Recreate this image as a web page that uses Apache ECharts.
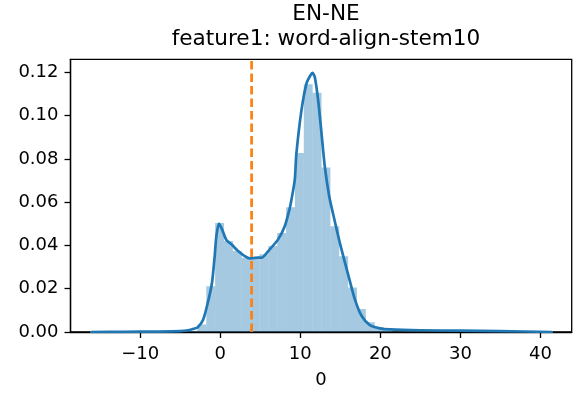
<!DOCTYPE html>
<html>
<head>
<meta charset="utf-8">
<script src="https://cdn.jsdelivr.net/npm/echarts@6/dist/echarts.min.js"></script>
<style>
html,body{margin:0;padding:0;background:#fff;}
#c{width:573px;height:394px;}
</style>
</head>
<body>
<div id="c"></div>
<script>
// ---- data ----
const titleLines = ["EN-NE", "feature1: word-align-stem10"];
const xAxisName = "0";
const xTicks = [-10, 0, 10, 20, 30, 40];
const yTicks = [0, 0.02, 0.04, 0.06, 0.08, 0.10, 0.12];

// histogram bins: left edges, right edges, density heights
const binLeft = [-3.954, -2.847, -1.740, -0.632, 0.475, 1.582, 2.689, 3.796, 4.903, 6.010, 7.117, 8.224, 9.331, 10.438, 11.545, 12.652, 13.759, 14.866, 15.973, 17.080, 18.187, 19.294, 20.401];
const binRight = [-2.847, -1.740, -0.632, 0.475, 1.582, 2.689, 3.796, 4.903, 6.010, 7.117, 8.224, 9.331, 10.438, 11.545, 12.652, 13.759, 14.866, 15.973, 17.080, 18.187, 19.294, 20.401, 21.508];
const binHeight = [0.0005, 0.0035, 0.0211, 0.0504, 0.0420, 0.0374, 0.0343, 0.0339, 0.0359, 0.0397, 0.0458, 0.0576, 0.0827, 0.1145, 0.1105, 0.0760, 0.0489, 0.0350, 0.0206, 0.0106, 0.0045, 0.0023, 0.0008];

// KDE curve points
const kdeX = [-16.1, -12, -8, -5, -4, -3.3, -2.8, -2.15, -1.52, -1.02, -0.69, -0.48, -0.15, 0.23, 0.77, 1.4, 2.23, 3.06, 3.69, 4.2, 4.7, 5.15, 6.19, 7.23, 8.06, 8.69, 8.9, 9.31, 9.52, 10.15, 10.77, 11.27, 11.52, 11.81, 12.23, 12.65, 13.06, 13.6, 14.1, 14.94, 15.98, 16.81, 17.65, 18.69, 19.94, 21.2, 25, 30, 35, 41.4];
const kdeY = [0.0000, 0.0001, 0.0002, 0.0004, 0.0008, 0.0015, 0.0022, 0.0055, 0.0140, 0.0229, 0.0351, 0.0443, 0.0501, 0.0474, 0.0425, 0.0405, 0.0374, 0.0351, 0.0340, 0.0342, 0.0344, 0.0343, 0.0382, 0.0428, 0.0489, 0.0573, 0.0612, 0.0703, 0.0826, 0.1025, 0.1148, 0.1186, 0.1197, 0.1178, 0.1071, 0.0918, 0.0765, 0.0630, 0.0545, 0.0412, 0.0265, 0.0152, 0.0075, 0.0032, 0.0017, 0.0012, 0.0008, 0.0006, 0.0004, 0.0000];

// vertical reference line
const vlineX = 3.92;

const xMin = -18.7, xMax = 43.9, yMin = 0, yMax = 0.126;

// ---- chart ----
const FONT = "DejaVu Sans";
const histData = binLeft.map((l, i) => [l, binRight[i], binHeight[i]]);
const kdeData = kdeX.map((x, i) => [x, kdeY[i]]);
const minus = s => String(s).replace('-', '\u2212');

const chart = echarts.init(document.getElementById('c'), null, {renderer: 'canvas'});
chart.setOption({
  animation: false,
  backgroundColor: '#ffffff',
  title: {
    text: titleLines.join('\n'),
    left: 321, top: -3,
    textAlign: 'center',
    textStyle: {fontFamily: FONT, fontSize: 21.6, fontWeight: 'normal', color: '#000', lineHeight: 25}
  },
  grid: {left: 70.5, right: 1.3, top: 59.3, bottom: 60.7, show: true, borderColor: '#000', borderWidth: 1.3, backgroundColor: 'transparent'},
  xAxis: {
    type: 'value', min: xMin, max: xMax,
    name: xAxisName, nameLocation: 'middle', nameGap: 39,
    nameTextStyle: {fontFamily: FONT, fontSize: 18, color: '#000', lineHeight: 18},
    axisLine: {show: true, onZero: false, lineStyle: {color: '#000', width: 1.3}},
    axisTick: {show: true, inside: false, length: 6, lineStyle: {color: '#000', width: 1.3}, customValues: xTicks},
    axisLabel: {show: true, margin: 13, fontFamily: FONT, fontSize: 18, color: '#000', lineHeight: 18, customValues: xTicks, formatter: v => minus(v)},
    splitLine: {show: false}
  },
  yAxis: {
    type: 'value', min: yMin, max: yMax,
    axisLine: {show: true, onZero: false, lineStyle: {color: '#000', width: 1.3}},
    axisTick: {show: true, inside: false, length: 6, lineStyle: {color: '#000', width: 1.3}, customValues: yTicks},
    axisLabel: {show: true, margin: 12, fontFamily: FONT, fontSize: 18, color: '#000', customValues: yTicks, formatter: v => Number(v).toFixed(2)},
    splitLine: {show: false}
  },
  series: [
    {
      type: 'custom',
      data: histData,
      encode: {x: [0, 1], y: 2},
      clip: true,
      z: 1,
      renderItem: function (params, api) {
        const p0 = api.coord([api.value(0), api.value(2)]);
        const p1 = api.coord([api.value(1), 0]);
        return {
          type: 'rect',
          shape: {x: p0[0], y: p0[1], width: p1[0] - p0[0], height: p1[1] - p0[1]},
          style: {fill: 'rgba(31,119,180,0.4)', stroke: null}
        };
      }
    },
    {
      type: 'line',
      data: kdeData,
      showSymbol: false,
      smooth: 0.25,
      clip: true,
      z: 3,
      lineStyle: {color: '#1f77b4', width: 2.7, cap: 'round', join: 'round'}
    },
    {
      type: 'line',
      data: [[vlineX, yMin], [vlineX, yMax]],
      showSymbol: false,
      z: 4,
      lineStyle: {color: '#ff7f0e', width: 2.7, type: [8.5, 4]}
    }
  ]
});
</script>
</body>
</html>
